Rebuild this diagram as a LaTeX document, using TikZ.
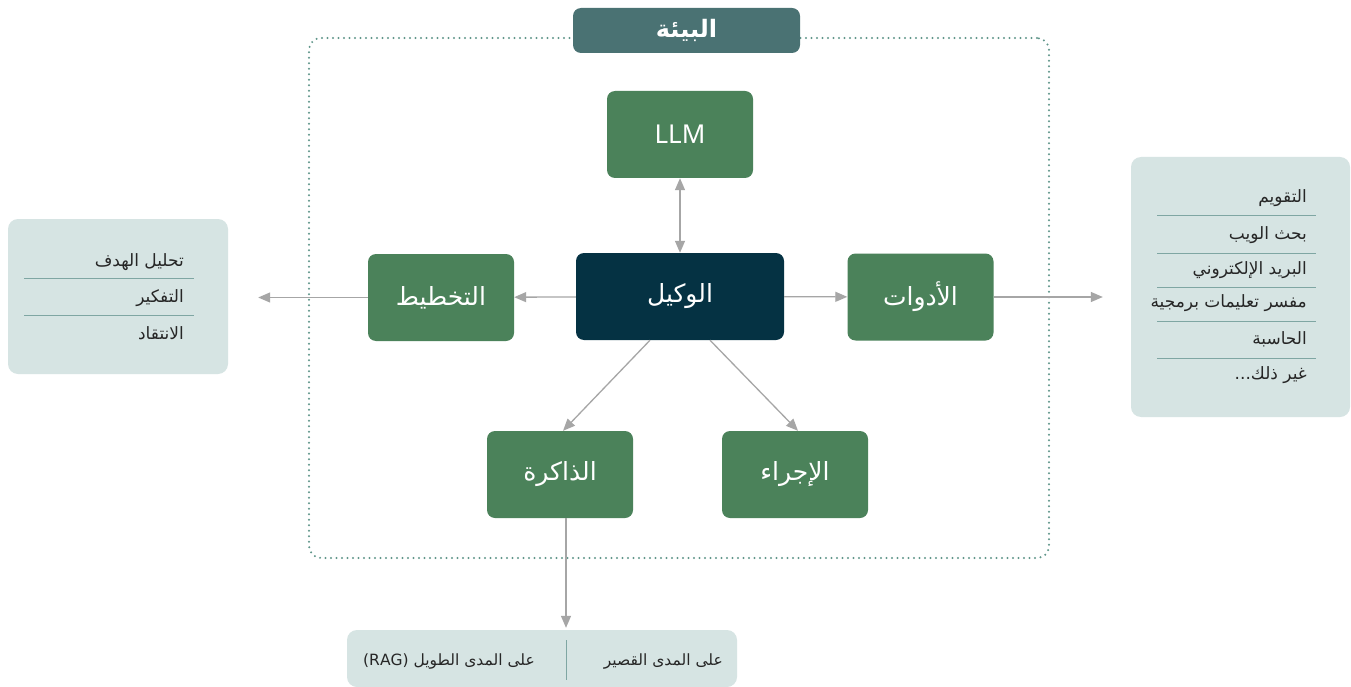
\documentclass[tikz,border=0pt]{standalone}
\usepackage{fontspec}
\setmainfont{Noto Sans}
\newfontfamily\arabicfont[Script=Arabic]{DejaVu Sans}
\TeXXeTstate=1
\usetikzlibrary{arrows.meta}
\definecolor{boxgreen}{RGB}{75,130,90}
\definecolor{agentnavy}{RGB}{5,50,67}
\definecolor{titleteal}{RGB}{74,114,115}
\definecolor{panelgray}{RGB}{214,228,227}
\definecolor{septeal}{RGB}{127,166,163}
\definecolor{envteal}{RGB}{96,150,138}
\definecolor{arrgray}{RGB}{166,166,166}
\begin{document}
\begin{tikzpicture}[x=1pt,y=-1pt,
  box/.style={rectangle, rounded corners=8pt, fill=boxgreen, text=white, inner sep=0pt,
    minimum width=146pt, minimum height=87pt, font=\fontsize{25}{30}\selectfont\arabicfont},
  panel/.style={rectangle, rounded corners=10pt, fill=panelgray, inner sep=0pt},
  item/.style={anchor=east, inner sep=0pt, text=black!85, font=\fontsize{17}{20}\selectfont\arabicfont},
  sep/.style={draw=septeal, line width=1pt},
  arr/.style={draw=arrgray, line width=1.3pt, -{Triangle[length=12pt,width=10pt]}}]
\useasboundingbox[fill=white] (0,0) rectangle (1351,687);
\node[draw=envteal, line width=2.2pt, line cap=round, dash pattern=on 0pt off 5.5pt, rounded corners=12pt,
      minimum width=740pt, minimum height=520pt] (env) at (679,298) {};
\node[rectangle, rounded corners=8pt, fill=titleteal, text=white, minimum width=227pt, minimum height=45pt,
      font=\fontsize{24}{28}\selectfont\arabicfont\bfseries] (title) at (686.5,30.5) {\beginR البيئة\endR};
\node[box] (llm) at (680,134.5) {\fontsize{26}{30}\selectfont\rmfamily LLM};
\node[box, fill=agentnavy, minimum width=208pt] (agent) at (680,296.5) {\beginR الوكيل\endR};
\node[box] (planning) at (441,297.5) {\beginR التخطيط\endR};
\node[box] (tools) at (920.5,297) {\beginR الأدوات\endR};
\node[box] (memory) at (560,474.5) {\beginR الذاكرة\endR};
\node[box] (action) at (795,474.5) {\beginR الإجراء\endR};
\node[panel, minimum width=220pt, minimum height=155pt] (goals) at (118,296.5) {};
\node[item] (g1) at (184,262) {\beginR تحليل الهدف\endR};
\node[item] (g2) at (184,298) {\beginR التفكير\endR};
\node[item] (g3) at (184,333) {\beginR الانتقاد\endR};
\draw[sep] (24,278) -- (194,278)
           (24,315) -- (194,315);
\node[panel, minimum width=219pt, minimum height=260pt] (toolsList) at (1240.5,287) {};
\node[item] (t1) at (1307,198) {\beginR التقويم\endR};
\node[item] (t2) at (1307,235) {\beginR بحث الويب\endR};
\node[item] (t3) at (1307,270) {\beginR البريد الإلكتروني\endR};
\node[item] (t4) at (1307,303) {\beginR مفسر تعليمات برمجية\endR};
\node[item] (t5) at (1307,339) {\beginR الحاسبة\endR};
\node[item] (t6) at (1307,375) {\beginR غير ذلك...\endR};
\draw[sep] (1157,215) -- (1316,215)
           (1157,253) -- (1316,253)
           (1157,287) -- (1316,287)
           (1157,321) -- (1316,321)
           (1157,358) -- (1316,358);
\node[panel, minimum width=390pt, minimum height=57pt] (storage) at (542,658.5) {};
\coordinate (split) at (566,640);
\coordinate (splitEnd) at (566,680);
\draw[sep] (split) -- (splitEnd);
\node[item, font=\fontsize{15.5}{19}\selectfont\arabicfont] (s1) at (723,661) {\beginR على المدى القصير\endR};
\node[item, font=\fontsize{15.5}{19}\selectfont\arabicfont] (s2) at (535,661) {\beginR على المدى الطويل \beginL(RAG)\endL\endR};
\draw[arr, {Triangle[length=12pt,width=10pt]}-{Triangle[length=12pt,width=10pt]}] (llm) -- (agent);
\draw[arr] (agent) -- (planning);
\draw[arr, shorten >=30pt] (planning) -- (goals.east |- planning);
\draw[arr] (agent) -- (tools);
\draw[arr, shorten >=28pt] (tools) -- (toolsList.west |- tools);
\draw[arr] ([xshift=-30pt]agent.south) -- ([xshift=3pt]memory.north);
\draw[arr] ([xshift=30pt]agent.south) -- ([xshift=3pt]action.north);
\draw[arr, shorten >=2pt] (memory.south -| split) -- (storage.north -| split);
\end{tikzpicture}
\end{document}
